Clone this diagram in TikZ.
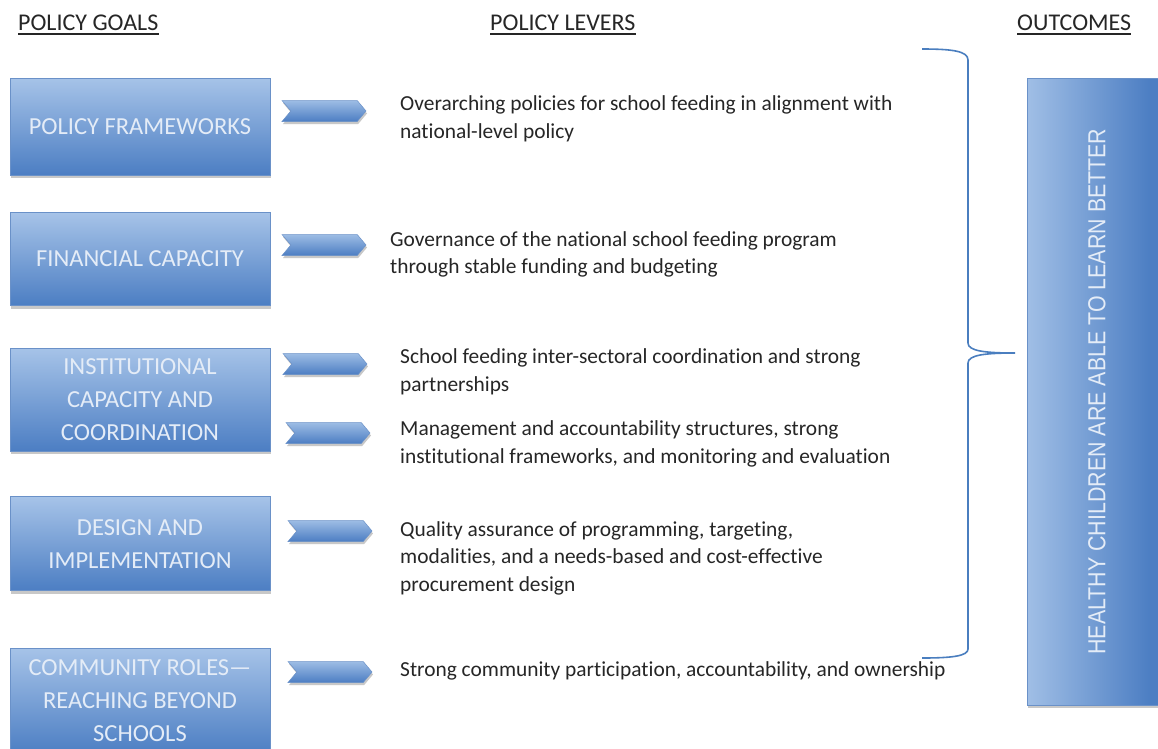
\documentclass[tikz,border=0pt]{standalone}
\usepackage{fontspec}
\setmainfont[RawFeature={-liga,-clig,-dlig}]{Carlito}
\newfontfamily\arialf{Liberation Sans}
\usetikzlibrary{shadows,shapes.symbols}
\definecolor{boxtop}{HTML}{A6C3E8}
\definecolor{boxbot}{HTML}{4C7EC3}
\definecolor{boxline}{HTML}{6A91C8}
\definecolor{boxtext}{HTML}{E4ECF7}
\definecolor{bodytext}{HTML}{262626}
\definecolor{bracecol}{HTML}{4A7EBF}
\pgfdeclarehorizontalshading{outshade}{100bp}{color(0bp)=(boxtop); color(22bp)=(boxtop); color(68bp)=(boxbot); color(100bp)=(boxbot)}
\tikzset{
  goalbox/.style={draw=boxline, line width=0.8pt, top color=boxtop, bottom color=boxbot,
    minimum width=260pt, text=boxtext, align=center, inner sep=0pt,
    font=\fontsize{24.5}{33}\selectfont,
    drop shadow={shadow xshift=1pt, shadow yshift=-3pt, opacity=0.3, fill=black!70}},
  chev/.style={signal, signal from=west, signal to=east, signal pointer angle=100,
    draw=boxline, line width=0.5pt, top color=boxtop!90!boxbot, bottom color=boxbot,
    minimum width=84pt, minimum height=21pt, inner sep=0pt,
    drop shadow={shadow xshift=1pt, shadow yshift=-2.5pt, opacity=0.3, fill=black!70}},
  lever/.style={anchor=west, align=left, text=bodytext, inner sep=0pt,
    font=\fontsize{21.4}{27.5}\selectfont},
  heading/.style={anchor=base west, text=bodytext, inner sep=0pt,
    font=\fontsize{24}{28}\selectfont},
  uline/.style={draw=bodytext, line width=1.4pt}
}
\begin{document}
\begin{tikzpicture}[x=1pt,y=-1pt]
\useasboundingbox (0,0) rectangle (1158,748);
\fill[white] (0,0) rectangle (1158,748);

% headings
\node[heading] (hg) at (18,30) {POLICY GOALS};
\node[heading] (hl) at (490,30) {POLICY LEVERS};
\node[heading] (ho) at (1017,30) {OUTCOMES};
\foreach \h in {hg,hl,ho}
  \draw[uline] ([yshift=-4pt]\h.base west) -- ([yshift=-4pt]\h.base east);

% goal boxes
\node[goalbox, minimum height=97pt] (g1) at (140,126.5) {POLICY FRAMEWORKS};
\node[goalbox, minimum height=93pt] (g2) at (140,259) {FINANCIAL CAPACITY};
\node[goalbox, minimum height=103pt] (g3) at (140,399.5) {INSTITUTIONAL\\CAPACITY AND\\COORDINATION};
\node[goalbox, minimum height=94pt] (g4) at (140,543.7) {DESIGN AND\\IMPLEMENTATION};
\node[goalbox, minimum height=106pt] (g5) at (140,701) {COMMUNITY ROLES\textemdash\\REACHING BEYOND\\SCHOOLS};

% chevrons
\node[chev] (c1) at (324,111) {};
\node[chev] (c2) at (324,245) {};
\node[chev] (c3) at (325,364) {};
\node[chev] (c4) at (328,433) {};
\node[chev] (c5) at (330,531) {};
\node[chev] (c6) at (330,672) {};

% levers
\node[lever] (l1) at (400,119) {Overarching policies for school feeding in alignment with\\national-level policy};
\node[lever] (l2) at (390,254.5) {Governance of the national school feeding program\\through stable funding and budgeting};
\node[lever] (l3) at (400,372) {School feeding inter-sectoral coordination and strong\\partnerships};
\node[lever] (l4) at (400,444) {Management and accountability structures, strong\\institutional frameworks, and monitoring and evaluation};
\node[lever] (l5) at (400,558) {Quality assurance of programming, targeting,\\modalities, and a needs-based and cost-effective\\procurement design};
\node[lever] (l6) at (400,671) {Strong community participation, accountability, and ownership};

% brace
\coordinate (bt) at (922,49);
\coordinate (bb) at (922,658);
\coordinate (tip) at (1015,353);
\draw[bracecol, line width=1.6pt]
  (bt) .. controls (952,49) and (968,51) .. (968,60) -- (968,343)
  .. controls (968,351) and (985,353) .. (tip)
  .. controls (985,353) and (968,355) .. (968,363) -- (968,649)
  .. controls (968,656) and (952,658) .. (bb);

% outcome box
\path[shading=outshade, draw=boxline, line width=0.8pt,
  drop shadow={shadow xshift=1pt, shadow yshift=-3pt, opacity=0.3, fill=black!70}]
  (1027,78) rectangle (1170,705);
\node[rotate=90, text=boxtext, inner sep=0pt] (out) at (1097,391.5)
  {\scalebox{1}[1.15]{\arialf\fontsize{21.4}{24}\selectfont HEALTHY CHILDREN ARE ABLE TO LEARN BETTER}};
\end{tikzpicture}
\end{document}
